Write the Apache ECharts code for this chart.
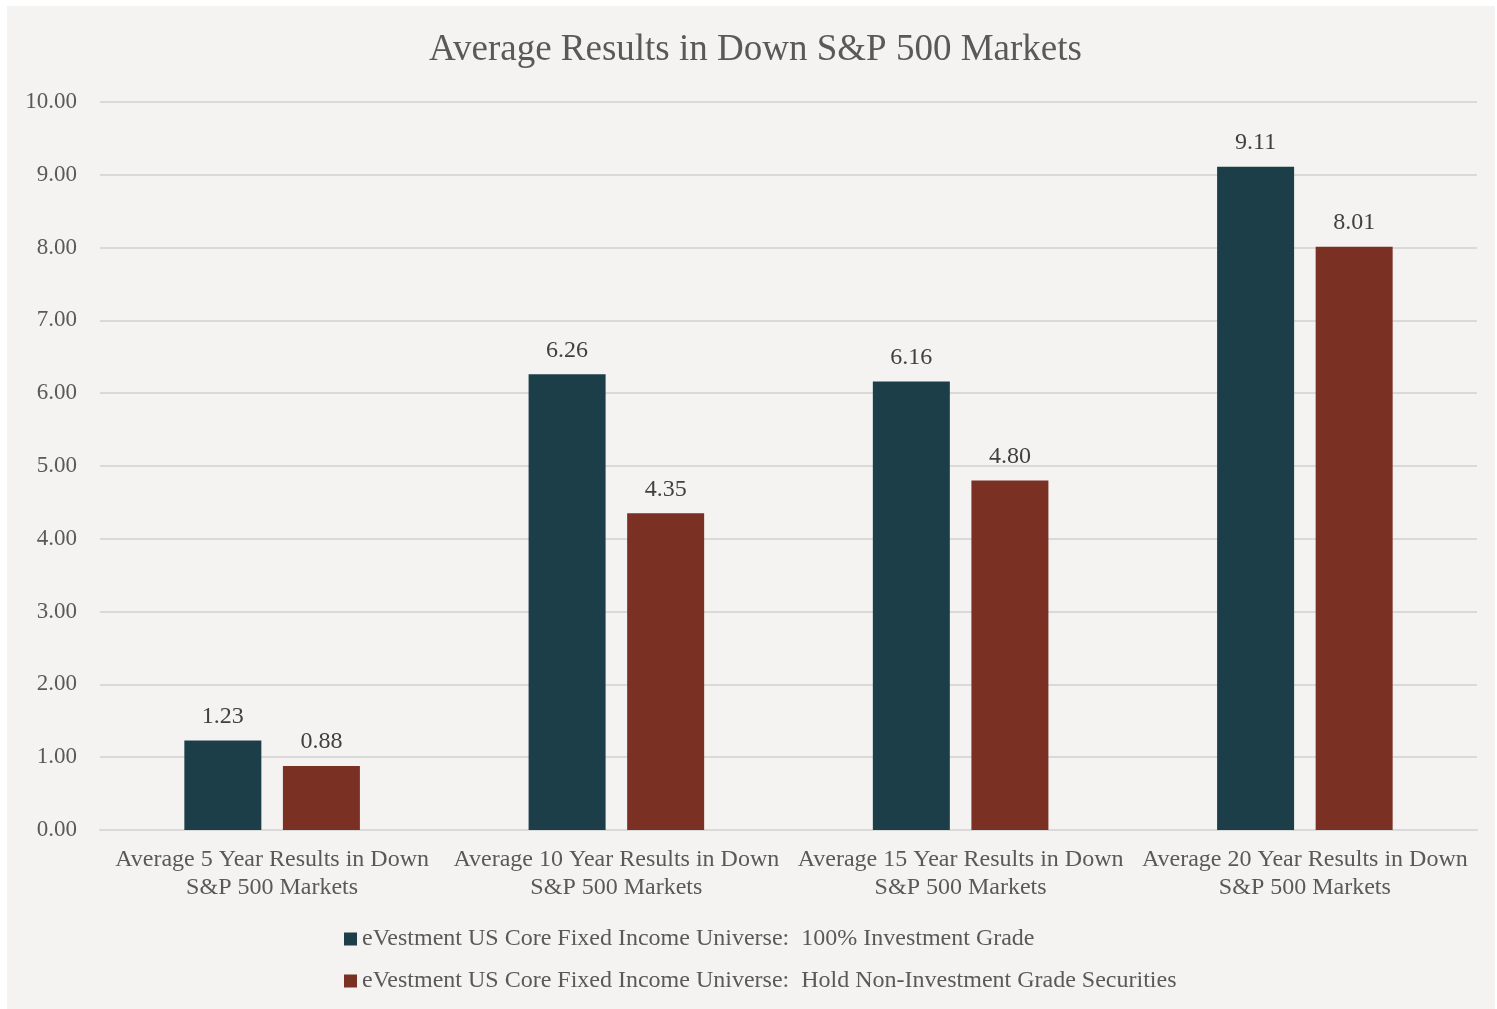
<!DOCTYPE html>
<html>
<head>
<meta charset="utf-8">
<title>Average Results in Down S&P 500 Markets</title>
<script src="https://cdn.jsdelivr.net/npm/echarts@6/dist/echarts.min.js"></script>
<style>
  html, body { margin: 0; padding: 0; background: #ffffff; }
  #chart { width: 1497px; height: 1009px; }
</style>
</head>
<body>
<div id="chart"></div>
<script>
// Category labels (two lines each)
var categories = [
  'Average 5 Year Results in Down\nS&P 500 Markets',
  'Average 10 Year Results in Down\nS&P 500 Markets',
  'Average 15 Year Results in Down\nS&P 500 Markets',
  'Average 20 Year Results in Down\nS&P 500 Markets'
];

// Series names
var seriesNames = [
  'eVestment US Core Fixed Income Universe:  100% Investment Grade',
  'eVestment US Core Fixed Income Universe:  Hold Non-Investment Grade Securities'
];

// Values per series
var investmentGrade = [1.23, 6.26, 6.16, 9.11];
var nonInvestmentGrade = [0.88, 4.35, 4.80, 8.01];

var FONT = '"Liberation Serif", "Times New Roman", serif';
var TEXT_COLOR = '#595959';
var COLORS = ['#1c3e48', '#7a3123'];

var chart = echarts.init(document.getElementById('chart'), null, { renderer: 'canvas' });

function barSeries(name, data, color) {
  return {
    name: name,
    type: 'bar',
    data: data,
    barWidth: 77,
    barGap: '28%',
    itemStyle: { color: color },
    label: {
      show: true,
      position: 'top',
      distance: 12,
      formatter: function (p) { return p.value.toFixed(2); },
      color: '#404040',
      fontFamily: FONT,
      fontSize: 24
    }
  };
}

chart.setOption({
  backgroundColor: '#ffffff',
  animation: false,
  textStyle: { fontFamily: FONT },
  graphic: [{
    type: 'rect',
    left: 7,
    top: 6,
    shape: { width: 1488, height: 1003 },
    style: { fill: '#f4f3f1' },
    z: -10
  }],
  title: {
    text: 'Average Results in Down S&P 500 Markets',
    left: 429,
    top: 32,
    padding: 0,
    textStyle: {
      fontFamily: FONT,
      fontSize: 37,
      fontWeight: 'normal',
      color: TEXT_COLOR
    }
  },
  legend: {
    orient: 'vertical',
    left: 344,
    top: 927,
    padding: 0,
    itemWidth: 13,
    itemHeight: 13,
    itemGap: 18,
    icon: 'rect',
    data: seriesNames,
    textStyle: {
      fontFamily: FONT,
      fontSize: 24,
      color: TEXT_COLOR
    }
  },
  grid: {
    left: 100,
    right: 20,
    top: 102,
    bottom: 179,
    containLabel: false
  },
  xAxis: {
    type: 'category',
    data: categories,
    axisLine: { show: true, lineStyle: { color: '#d9d9d9', width: 2 } },
    axisTick: { show: false },
    axisLabel: {
      margin: 16,
      interval: 0,
      fontFamily: FONT,
      fontSize: 24,
      lineHeight: 28,
      color: TEXT_COLOR
    }
  },
  yAxis: {
    type: 'value',
    min: 0,
    max: 10,
    interval: 1,
    axisLine: { show: false },
    axisTick: { show: false },
    splitLine: { lineStyle: { color: '#d9d9d9', width: 2 } },
    axisLabel: {
      margin: 23,
      fontFamily: FONT,
      fontSize: 23,
      color: TEXT_COLOR,
      formatter: function (v) { return v.toFixed(2); }
    }
  },
  series: [
    barSeries(seriesNames[0], investmentGrade, COLORS[0]),
    barSeries(seriesNames[1], nonInvestmentGrade, COLORS[1])
  ]
});
</script>
</body>
</html>
